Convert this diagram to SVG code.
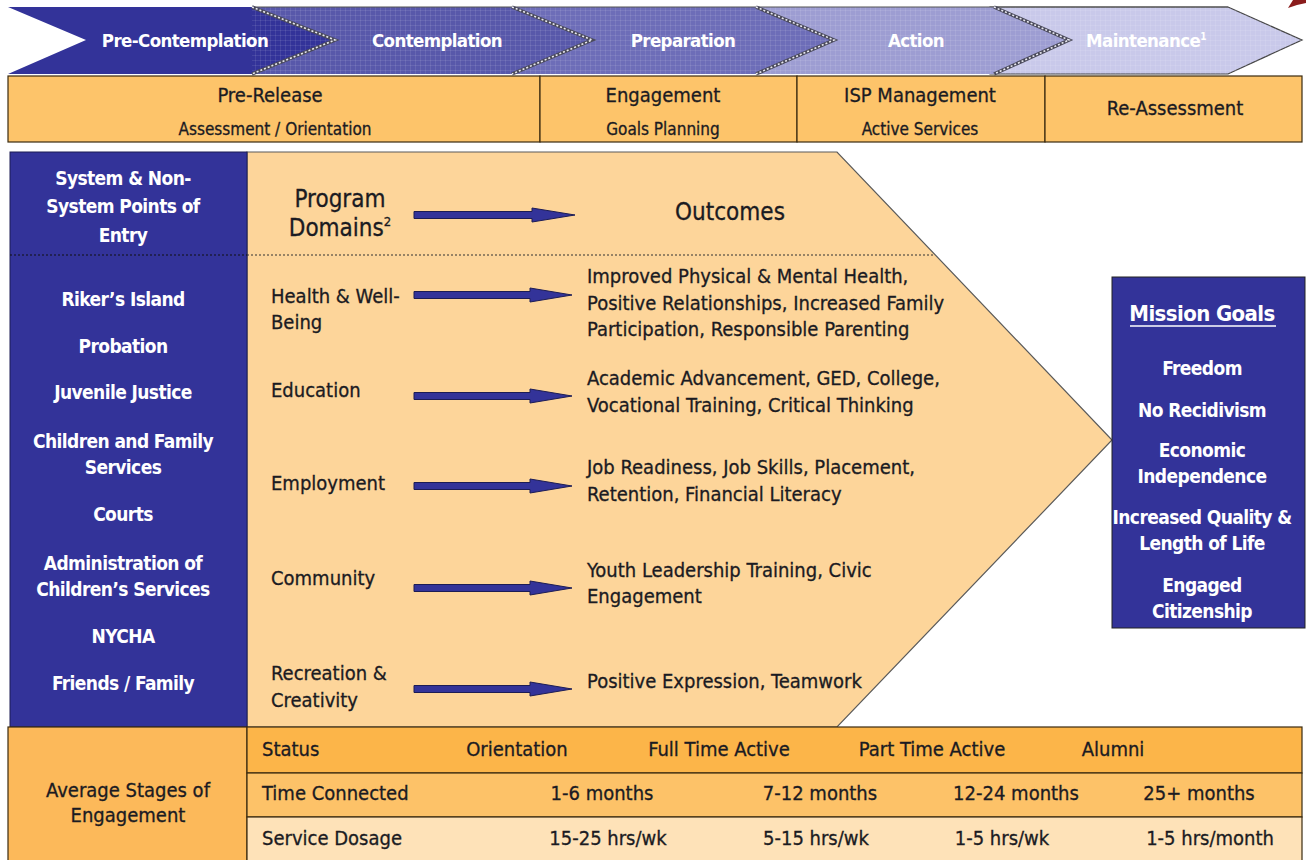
<svg xmlns="http://www.w3.org/2000/svg" width="1306" height="860" viewBox="0 0 1306 860">
  <defs>
    <style>
      .w { font-family: "Liberation Sans Narrow", "DejaVu Sans Condensed", "Liberation Sans", sans-serif; font-weight: bold; fill: #ffffff; letter-spacing: -0.6px; }
      .d { font-family: "Liberation Sans Narrow", "DejaVu Sans Condensed", "Liberation Sans", sans-serif; fill: #1b1b22; stroke: #1b1b22; stroke-width: 0.3px; }
      .c { text-anchor: middle; }
      .seam { fill: none; stroke: #4a4a5a; stroke-width: 3.5; }
      .seam2 { fill: none; stroke: #e8e8f0; stroke-width: 1.6; stroke-dasharray: 2 2; }
      .cell { stroke: #3a2a10; stroke-width: 1.2; }
      .arr { fill: #333399; stroke: #1c1c55; stroke-width: 1; }
    </style>
    <pattern id="grid" width="5" height="5" patternUnits="userSpaceOnUse">
      <path d="M0 0H5M0 0V5" stroke="#ffffff" stroke-opacity="0.18" stroke-width="1" fill="none"/>
    </pattern>
  </defs>
  <rect width="1306" height="860" fill="#ffffff"/>

  <!-- small dark red mark at the upper right edge -->
  <path d="M1288 8 L1293 0 L1306 0 L1306 3 L1297 5 Z" fill="#8a1c1c"/>

  <!-- stage chevrons -->
  <g id="stages">
    <path d="M1228 7 L1302 40 L1228 74 L990 74 L990 7 Z" fill="#c9c9ea" stroke="#444" stroke-width="1.2"/>
    <path d="M994 7 L1069 40 L994 74 L752 74 L752 7 Z" fill="#9d9dd2"/>
    <path d="M756 7 L834 40 L756 74 L508 74 L508 7 Z" fill="#6d6db8"/>
    <path d="M512 7 L592 40 L512 74 L248 74 L248 7 Z" fill="#5858aa"/>
    <path d="M252 7 L335 40 L252 74 L8 74 L86 40 L8 7 Z" fill="#333399"/>
    <rect x="252" y="7" width="1050" height="67" fill="url(#grid)"/>
    <path d="M252 7 H1228" stroke="#555" stroke-width="1.2" fill="none"/>
    <path class="seam" d="M252 7 L335 40 L252 74"/>
    <path class="seam2" d="M252 7 L335 40 L252 74"/>
    <path class="seam" d="M512 7 L592 40 L512 74"/>
    <path class="seam2" d="M512 7 L592 40 L512 74"/>
    <path class="seam" d="M756 7 L834 40 L756 74"/>
    <path class="seam2" d="M756 7 L834 40 L756 74"/>
    <path class="seam" d="M994 7 L1069 40 L994 74"/>
    <path class="seam2" d="M994 7 L1069 40 L994 74"/>
    <g font-size="18.5">
      <text class="w c" x="185" y="47">Pre-Contemplation</text>
      <text class="w c" x="437" y="47">Contemplation</text>
      <text class="w c" x="683" y="47">Preparation</text>
      <text class="w c" x="916" y="47">Action</text>
      <text class="w c" x="1146" y="47" fill="#f2f2ff">Maintenance<tspan font-size="10" dy="-7">1</tspan></text>
    </g>
  </g>

  <!-- phase row -->
  <g id="phases">
    <rect class="cell" x="8" y="76" width="532" height="66" fill="#fdc46a"/>
    <rect class="cell" x="540" y="76" width="257" height="66" fill="#fdc46a"/>
    <rect class="cell" x="797" y="76" width="248" height="66" fill="#fdc46a"/>
    <rect class="cell" x="1045" y="76" width="257" height="66" fill="#fdc46a"/>
    <text class="d c" x="270" y="102" font-size="20">Pre-Release</text>
    <text class="d c" x="275" y="135" font-size="17">Assessment / Orientation</text>
    <text class="d c" x="663" y="102" font-size="20">Engagement</text>
    <text class="d c" x="663" y="135" font-size="17">Goals Planning</text>
    <text class="d c" x="920" y="102" font-size="20">ISP Management</text>
    <text class="d c" x="920" y="135" font-size="17">Active Services</text>
    <text class="d c" x="1175" y="115" font-size="20">Re-Assessment</text>
  </g>

  <!-- domains and outcomes arrow block -->
  <g id="domains">
    <path d="M247 152 L837 152 L1112 440 L837 727 L247 727 Z" fill="#fdd59a" stroke="#5a5a5a" stroke-width="1.2"/>
    <path d="M247 255 H935" stroke="#333" stroke-width="1.2" stroke-dasharray="2 2"/>
    <text class="d c" x="340" y="207" font-size="24">Program</text>
    <text class="d c" x="340" y="236" font-size="24">Domains<tspan font-size="13" dy="-10">2</tspan></text>
    <text class="d c" x="730" y="220" font-size="24">Outcomes</text>
    <g font-size="20">
      <text class="d" x="271" y="303">Health &amp; Well-</text>
      <text class="d" x="271" y="329">Being</text>
      <text class="d" x="271" y="397">Education</text>
      <text class="d" x="271" y="490">Employment</text>
      <text class="d" x="271" y="585">Community</text>
      <text class="d" x="271" y="680">Recreation &amp;</text>
      <text class="d" x="271" y="707">Creativity</text>
    </g>
    <g font-size="20">
      <text class="d" x="587" y="283">Improved Physical &amp; Mental Health,</text>
      <text class="d" x="587" y="310">Positive Relationships, Increased Family</text>
      <text class="d" x="587" y="336">Participation, Responsible Parenting</text>
      <text class="d" x="587" y="385">Academic Advancement, GED, College,</text>
      <text class="d" x="587" y="412">Vocational Training, Critical Thinking</text>
      <text class="d" x="587" y="474">Job Readiness, Job Skills, Placement,</text>
      <text class="d" x="587" y="501">Retention, Financial Literacy</text>
      <text class="d" x="587" y="577">Youth Leadership Training, Civic</text>
      <text class="d" x="587" y="603">Engagement</text>
      <text class="d" x="587" y="688">Positive Expression, Teamwork</text>
    </g>
  </g>

  <!-- points of entry -->
  <g id="entry">
    <rect x="10" y="152" width="237" height="575" fill="#333399" stroke="#1c1c55" stroke-width="1"/>
    <path d="M10 255 H247" stroke="#111" stroke-width="1.2" stroke-dasharray="2 2"/>
    <g font-size="19">
      <text class="w c" x="123" y="185">System &amp; Non-</text>
      <text class="w c" x="123" y="213">System Points of</text>
      <text class="w c" x="123" y="242">Entry</text>
      <text class="w c" x="123" y="306">Riker’s Island</text>
      <text class="w c" x="123" y="353">Probation</text>
      <text class="w c" x="123" y="399">Juvenile Justice</text>
      <text class="w c" x="123" y="448">Children and Family</text>
      <text class="w c" x="123" y="474">Services</text>
      <text class="w c" x="123" y="521">Courts</text>
      <text class="w c" x="123" y="570">Administration of</text>
      <text class="w c" x="123" y="596">Children’s Services</text>
      <text class="w c" x="123" y="643">NYCHA</text>
      <text class="w c" x="123" y="690">Friends / Family</text>
    </g>
  </g>

  <!-- mission goals -->
  <g id="mission">
    <rect x="1112" y="277" width="193" height="351" fill="#333399" stroke="#222" stroke-width="1"/>
    <text class="w c" x="1202" y="321" font-size="22">Mission Goals</text>
    <path d="M1130 326 H1276" stroke="#ffffff" stroke-width="1.6"/>
    <g font-size="19">
      <text class="w c" x="1202" y="375">Freedom</text>
      <text class="w c" x="1202" y="417">No Recidivism</text>
      <text class="w c" x="1202" y="457">Economic</text>
      <text class="w c" x="1202" y="483">Independence</text>
      <text class="w c" x="1202" y="524">Increased Quality &amp;</text>
      <text class="w c" x="1202" y="550">Length of Life</text>
      <text class="w c" x="1202" y="592">Engaged</text>
      <text class="w c" x="1202" y="618">Citizenship</text>
    </g>
  </g>

  <!-- engagement stages table -->
  <g id="stages-table">
    <rect class="cell" x="8" y="727" width="239" height="140" fill="#fcb95a"/>
    <rect class="cell" x="247" y="727" width="1055" height="46" fill="#fcb549"/>
    <rect class="cell" x="247" y="773" width="1055" height="44" fill="#fdc268"/>
    <rect class="cell" x="247" y="817" width="1055" height="50" fill="#fee2b8"/>
    <text class="d c" x="128" y="797" font-size="20">Average Stages of</text>
    <text class="d c" x="128" y="822" font-size="20">Engagement</text>
    <g font-size="20">
      <text class="d" x="262" y="756">Status</text>
      <text class="d c" x="517" y="756">Orientation</text>
      <text class="d c" x="719" y="756">Full Time Active</text>
      <text class="d c" x="932" y="756">Part Time Active</text>
      <text class="d c" x="1113" y="756">Alumni</text>
      <text class="d" x="262" y="800">Time Connected</text>
      <text class="d c" x="602" y="800">1-6 months</text>
      <text class="d c" x="820" y="800">7-12 months</text>
      <text class="d c" x="1016" y="800">12-24 months</text>
      <text class="d c" x="1199" y="800">25+ months</text>
      <text class="d" x="262" y="845">Service Dosage</text>
      <text class="d c" x="608" y="845">15-25 hrs/wk</text>
      <text class="d c" x="816" y="845">5-15 hrs/wk</text>
      <text class="d c" x="1002" y="845">1-5 hrs/wk</text>
      <text class="d c" x="1210" y="845">1-5 hrs/month</text>
    </g>
  </g>

  <!-- domain-to-outcome arrows -->
  <g id="connectors">
    <path class="arr" d="M414 211.5 H532 V208 L575 215 L532 222 V218.5 H414 Z"/>
    <path class="arr" d="M414 291.5 H530 V288 L572 295 L530 302 V298.5 H414 Z"/>
    <path class="arr" d="M414 392.5 H530 V389 L572 396 L530 403 V399.5 H414 Z"/>
    <path class="arr" d="M414 482.5 H530 V479 L572 486 L530 493 V489.5 H414 Z"/>
    <path class="arr" d="M414 584.5 H530 V581 L572 588 L530 595 V591.5 H414 Z"/>
    <path class="arr" d="M414 685.5 H530 V682 L572 689 L530 696 V692.5 H414 Z"/>
  </g>
</svg>
